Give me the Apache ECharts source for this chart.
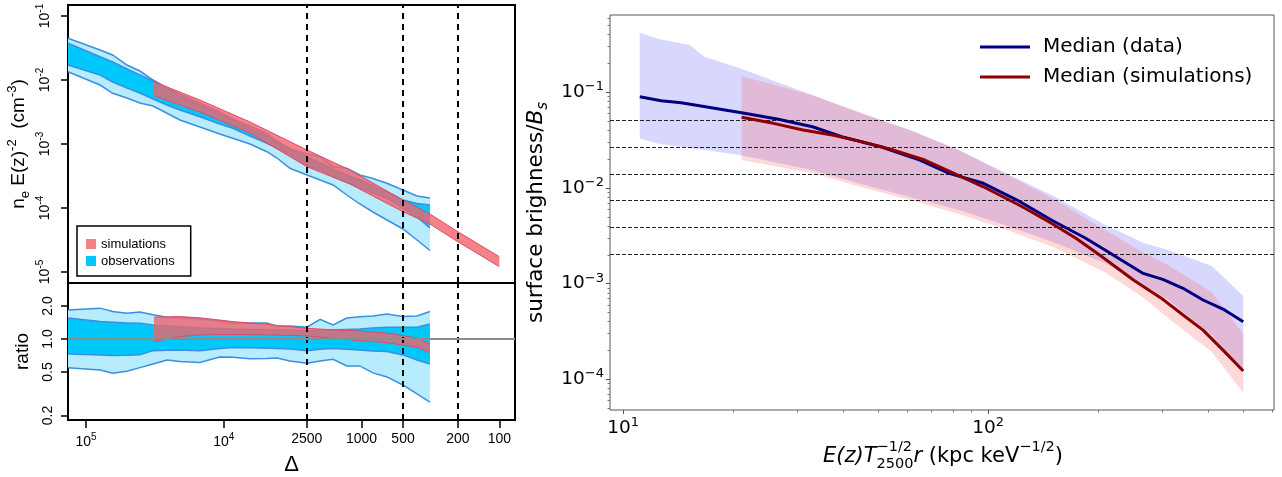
<!DOCTYPE html>
<html>
<head>
<meta charset="utf-8">
<script src="https://cdn.jsdelivr.net/npm/echarts@6.0.0/dist/echarts.min.js"></script>
<style>
  html, body { margin: 0; padding: 0; background: #fff; }
  #chart { width: 1282px; height: 477px; }
</style>
</head>
<body>
<div id="chart"></div>
<script>
// ---- left panel: density profiles vs overdensity Delta ----
const deltaObs = [135000, 79000, 64000, 50400, 40600, 32600, 25800, 20800, 14900, 10700, 8600, 6450, 4860, 4110, 3310, 2490, 2000, 1610, 1280, 1030, 827, 654, 501, 396, 319];
const neObsOuterHi = [0.0448, 0.0294, 0.0246, 0.01715, 0.01382, 0.0100, 0.0075, 0.00604, 0.00437, 0.00316, 0.00246, 0.00191, 0.00146, 0.001114, 0.000836, 0.000698, 0.000634, 0.000442, 0.000417, 0.000328, 0.000289, 0.000243, 0.000191, 0.000154, 0.000143];
const neObsInnerHi = [0.03745, 0.02312, 0.0191, 0.01486, 0.01197, 0.00965, 0.00723, 0.00562, 0.00407, 0.00294, 0.00237, 0.00178, 0.001334, 0.001075, 0.000836, 0.000627, 0.000505, 0.000406, 0.000328, 0.000274, 0.000221, 0.000178, 0.0001334, 0.0001175, 0.0001114];
const neObsInnerLo = [0.01715, 0.01197, 0.0093, 0.0075, 0.00626, 0.00505, 0.00407, 0.0034, 0.00267, 0.002054, 0.00176, 0.001334, 0.001025, 0.000866, 0.000673, 0.000453, 0.000392, 0.000311, 0.000255, 0.000205, 0.0001715, 0.0001433, 0.0001, 0.0000723, 0.0000487];
const neObsOuterLo = [0.01348, 0.00835, 0.0062, 0.00523, 0.00437, 0.00392, 0.00302, 0.00237, 0.001845, 0.001433, 0.001228, 0.001, 0.000758, 0.000604, 0.000417, 0.000328, 0.000274, 0.000229, 0.0001596, 0.0001155, 0.0000866, 0.0000649, 0.000047, 0.0000316, 0.0000217];
const deltaSim = [32100, 14900, 6450, 2490, 1214, 501, 319, 200, 100];
const neSimHi = [0.0094, 0.00487, 0.002207, 0.000806, 0.000392, 0.0001334, 0.0000806, 0.0000426, 0.00001734];
const neSimLo = [0.00569, 0.00316, 0.001486, 0.000442, 0.000237, 0.0000876, 0.0000562, 0.0000297, 0.0000121];

// ratio panel
const ratioObsOuterHi = [1.84, 1.91, 1.78, 1.72, 1.76, 1.66, 1.58, 1.56, 1.52, 1.46, 1.39, 1.40, 1.40, 1.30, 1.31, 1.28, 1.51, 1.34, 1.55, 1.59, 1.62, 1.69, 1.60, 1.62, 1.78];
const ratioObsInnerHi = [1.55, 1.44, 1.42, 1.40, 1.39, 1.34, 1.31, 1.29, 1.26, 1.25, 1.23, 1.22, 1.21, 1.21, 1.20, 1.18, 1.20, 1.21, 1.22, 1.23, 1.26, 1.28, 1.28, 1.28, 1.37];
const ratioObsInnerLo = [0.730, 0.715, 0.707, 0.710, 0.719, 0.782, 0.789, 0.794, 0.782, 0.819, 0.836, 0.833, 0.823, 0.817, 0.811, 0.782, 0.805, 0.816, 0.807, 0.794, 0.777, 0.766, 0.715, 0.643, 0.591];
const ratioObsOuterLo = [0.547, 0.521, 0.486, 0.507, 0.547, 0.591, 0.643, 0.623, 0.610, 0.685, 0.681, 0.661, 0.664, 0.671, 0.630, 0.600, 0.630, 0.653, 0.567, 0.567, 0.490, 0.450, 0.380, 0.315, 0.265];
const deltaSimRatio = [32100, 20800, 14900, 8580, 4860, 2490, 1610, 1030, 654, 396, 319];
const ratioSimHi = [1.58, 1.60, 1.56, 1.44, 1.36, 1.25, 1.21, 1.18, 1.13, 1.02, 0.90];
const ratioSimLo = [0.945, 1.05, 1.09, 1.10, 1.09, 1.065, 1.015, 0.965, 0.925, 0.84, 0.75];

const deltaTicks = [100000, 10000, 2500, 1000, 500, 200, 100];
const deltaLines = [2500, 500, 200];
const neTicks = [1e-1, 1e-2, 1e-3, 1e-4, 1e-5];
const ratioTicks = [0.2, 0.5, 1, 2];

// ---- right panel: surface brightness profiles ----
const rData = [11.1, 12.7, 14.4, 16.8, 19.0, 21.5, 26.6, 33.0, 39.7, 50.8, 65.0, 78.2, 97.0, 120, 149, 185, 209, 266, 301, 342, 388, 440, 500];
const medData = [0.0899, 0.0817, 0.0778, 0.0707, 0.0653, 0.0603, 0.0522, 0.0437, 0.0343, 0.0270, 0.0196, 0.0142, 0.0112, 0.00748, 0.00463, 0.00298, 0.00225, 0.00128, 0.00111, 0.000894, 0.000675, 0.000543, 0.000400];
const rSim = [21.1, 25.8, 31.1, 37.4, 44.9, 54.0, 67.0, 80.6, 97.0, 124, 149, 174, 202, 250, 301, 342, 388, 440, 500];
const medSim = [0.0548, 0.0474, 0.0404, 0.0358, 0.0305, 0.0254, 0.0196, 0.01423, 0.0103, 0.00637, 0.00428, 0.00298, 0.00199, 0.00109, 0.000686, 0.000470, 0.000327, 0.000202, 0.000122];
const rBandData = [11.1, 12.6, 15.2, 16.7, 20.9, 32.9, 44.8, 61.0, 83.1, 113, 153, 209, 267, 311, 410, 500];
const bandDataHi = [0.420, 0.358, 0.312, 0.2355, 0.178, 0.0937, 0.0608, 0.0404, 0.0249, 0.0140, 0.00805, 0.0041, 0.00266, 0.00225, 0.00153, 0.000743];
const bandDataLo = [0.0330, 0.0288, 0.0262, 0.0249, 0.0221, 0.0154, 0.0110, 0.00805, 0.00589, 0.0040, 0.00266, 0.00164, 0.00097, 0.000675, 0.00029, 0.00012];
const rBandSim = [21.1, 32.9, 44.8, 61.0, 83.1, 113, 153, 209, 267, 311, 410, 500];
const bandSimHi = [0.148, 0.0937, 0.0608, 0.0404, 0.0249, 0.01367, 0.00748, 0.00364, 0.00209, 0.00157, 0.000818, 0.000298];
const bandSimLo = [0.0196, 0.01434, 0.01023, 0.00748, 0.00535, 0.00364, 0.00236, 0.00132, 0.000708, 0.000438, 0.000193, 0.0000724];
const sbLevels = [0.0505, 0.0266, 0.0140, 0.00736, 0.00388, 0.00203];
const rTicks = [10, 100];
const sbTicks = [1e-1, 1e-2, 1e-3, 1e-4];

const chart = echarts.init(document.getElementById('chart'), null, { renderer: 'canvas' });

const R_FONT = 'Liberation Sans';
const M_FONT = 'DejaVu Sans';
const OBS_LIGHT = '#b6ecfc';
const OBS_DARK = '#00c8fa';
const OBS_EDGE = '#3a8fe0';
const SIM_FILL = 'rgba(240,100,108,0.8)';
const SIM_EDGE = '#e3496a';

// filled band between lo and hi, drawn as one polygon through the axis scales
function band(name, xi, yi, xs, lo, hi, fill, edge, edgeWidth, z, extra) {
  return Object.assign({
    type: 'custom', name: name, xAxisIndex: xi, yAxisIndex: yi, z: z, silent: true,
    color: fill, itemStyle: { color: fill },
    data: xs.map((x, i) => [x, lo[i], hi[i]]),
    renderItem: function (params, api) {
      if (params.dataIndex !== 0) return null;
      const top = xs.map((x, i) => api.coord([x, hi[i]]));
      const bot = xs.map((x, i) => api.coord([x, lo[i]]));
      const kids = [{ type: 'polygon', shape: { points: top.concat(bot.slice().reverse()) }, style: { fill: fill } }];
      if (edge) {
        kids.push({ type: 'polyline', shape: { points: top }, style: { stroke: edge, lineWidth: edgeWidth, fill: null } });
        kids.push({ type: 'polyline', shape: { points: bot }, style: { stroke: edge, lineWidth: edgeWidth, fill: null } });
      }
      return { type: 'group', children: kids };
    }
  }, extra || {});
}

const vDashes = {
  silent: true, symbol: ['none', 'none'], label: { show: false }, precision: 10,
  lineStyle: { color: '#000', width: 2, type: [6, 5] },
  data: deltaLines.map(v => ({ xAxis: v }))
};

function powLabel(v, minus) {
  const e = Math.round(Math.log10(v));
  return '{b|10}{s|' + String(e).replace('-', minus) + '}';
}

const leftTickStyle = { show: true, length: 7, lineStyle: { color: '#000', width: 1.5 } };

const option = {
  animation: false,
  backgroundColor: '#fff',
  grid: [
    { left: 68, top: 5, width: 447, height: 278, show: true, borderColor: '#000', borderWidth: 2, backgroundColor: 'transparent' },
    { left: 68, top: 283, width: 447, height: 137, show: true, borderColor: '#000', borderWidth: 2, backgroundColor: 'transparent' },
    { left: 610, top: 15, width: 664, height: 395, show: true, borderColor: '#555', borderWidth: 1, backgroundColor: 'transparent' }
  ],
  xAxis: [
    { type: 'log', gridIndex: 0, inverse: true, min: 77, max: 135000,
      axisLine: { show: false }, axisTick: { show: false }, axisLabel: { show: false }, splitLine: { show: false } },
    { type: 'log', gridIndex: 1, inverse: true, min: 77, max: 135000,
      axisLine: { show: false }, splitLine: { show: false },
      axisTick: Object.assign({ customValues: deltaTicks }, leftTickStyle, { length: 8 }),
      axisLabel: {
        customValues: deltaTicks, margin: 12, color: '#000', fontFamily: R_FONT, fontSize: 14,
        formatter: v => (v >= 10000 ? powLabel(v, '-') : String(Math.round(v))),
        rich: {
          b: { fontFamily: R_FONT, fontSize: 14, lineHeight: 20, color: '#000' },
          s: { fontFamily: R_FONT, fontSize: 10, lineHeight: 10, verticalAlign: 'top', color: '#000' }
        }
      },
      name: 'Δ', nameLocation: 'middle', nameGap: 34,
      nameTextStyle: { fontFamily: R_FONT, fontSize: 22, color: '#000' } },
    { type: 'log', gridIndex: 2, min: 9.2, max: 607,
      axisLine: { show: false }, splitLine: { show: false },
      axisTick: { customValues: rTicks, length: 4, lineStyle: { color: '#555', width: 1 } },
      minorTick: { show: true, splitNumber: 9, length: 2.5, lineStyle: { color: '#777', width: 1 } },
      axisLabel: {
        customValues: rTicks, margin: 6, color: '#000',
        formatter: v => powLabel(v, '−'),
        rich: {
          b: { fontFamily: M_FONT, fontSize: 18.5, lineHeight: 24, color: '#000' },
          s: { fontFamily: M_FONT, fontSize: 13, lineHeight: 13, verticalAlign: 'top', color: '#000' }
        }
      } }
  ],
  yAxis: [
    { type: 'log', gridIndex: 0, min: 6.73e-6, max: 0.1486,
      axisLine: { show: false }, splitLine: { show: false },
      axisTick: Object.assign({ customValues: neTicks }, leftTickStyle),
      axisLabel: {
        customValues: neTicks, rotate: 90, margin: 13, color: '#000',
        formatter: v => powLabel(v, '-'),
        rich: {
          b: { fontFamily: R_FONT, fontSize: 14, lineHeight: 20, color: '#000' },
          s: { fontFamily: R_FONT, fontSize: 10, lineHeight: 10, verticalAlign: 'top', color: '#000' }
        }
      },
      name: '{t|n}{sub|e}{t| E(z)}{sup|-2}{t|  (cm}{sup|-3}{t|)}', nameLocation: 'middle', nameGap: 36,
      nameTextStyle: {
        rich: {
          t: { fontFamily: R_FONT, fontSize: 19, lineHeight: 26, color: '#000' },
          sub: { fontFamily: R_FONT, fontSize: 13, lineHeight: 13, verticalAlign: 'bottom', color: '#000' },
          sup: { fontFamily: R_FONT, fontSize: 13, lineHeight: 13, verticalAlign: 'top', color: '#000' }
        }
      } },
    { type: 'log', gridIndex: 1, min: 0.182, max: 3.24,
      axisLine: { show: false }, splitLine: { show: false },
      axisTick: Object.assign({ customValues: ratioTicks }, leftTickStyle),
      axisLabel: {
        customValues: ratioTicks, rotate: 90, margin: 13, color: '#000',
        fontFamily: R_FONT, fontSize: 14, formatter: v => v.toFixed(1)
      },
      name: 'ratio', nameLocation: 'middle', nameGap: 36,
      nameTextStyle: { fontFamily: R_FONT, fontSize: 19, color: '#000' } },
    { type: 'log', gridIndex: 2, min: 4.78e-5, max: 0.643,
      axisLine: { show: false }, splitLine: { show: false },
      axisTick: { customValues: sbTicks, length: 4, lineStyle: { color: '#555', width: 1 } },
      minorTick: { show: true, splitNumber: 9, length: 2.5, lineStyle: { color: '#777', width: 1 } },
      axisLabel: {
        customValues: sbTicks, margin: 6, color: '#000',
        formatter: v => powLabel(v, '−'),
        rich: {
          b: { fontFamily: M_FONT, fontSize: 18.5, lineHeight: 24, color: '#000' },
          s: { fontFamily: M_FONT, fontSize: 13, lineHeight: 13, verticalAlign: 'top', color: '#000' }
        }
      },
      name: '{t|surface brighness/}{i|B}{sub|s}', nameLocation: 'middle', nameGap: 53,
      nameTextStyle: {
        rich: {
          t: { fontFamily: M_FONT, fontSize: 21.5, lineHeight: 28, color: '#000' },
          i: { fontFamily: M_FONT, fontStyle: 'italic', fontSize: 21.5, lineHeight: 28, color: '#000' },
          sub: { fontFamily: M_FONT, fontStyle: 'italic', fontSize: 15, lineHeight: 15, verticalAlign: 'bottom', color: '#000' }
        }
      } }
  ],
  legend: [
    { data: ['simulations', 'observations'], left: 77, top: 226, orient: 'vertical',
      icon: 'rect', itemWidth: 10, itemHeight: 10, itemGap: 3, padding: [11, 16, 8, 9],
      borderColor: '#000', borderWidth: 1.5, borderRadius: 0, backgroundColor: '#fff',
      selectedMode: false, textStyle: { fontFamily: R_FONT, fontSize: 13, lineHeight: 14, color: '#000' } },
    { data: ['Median (data)', 'Median (simulations)'], left: 975, top: 30, orient: 'vertical',
      icon: 'rect', itemWidth: 50, itemHeight: 3, itemGap: 6,
      selectedMode: false, textStyle: { fontFamily: M_FONT, fontSize: 20, lineHeight: 24, color: '#000', padding: [0, 0, 0, 8] } }
  ],
  series: [
    band('obs outer', 0, 0, deltaObs, neObsOuterLo, neObsOuterHi, OBS_LIGHT, OBS_EDGE, 1.5, 2),
    band('observations', 0, 0, deltaObs, neObsInnerLo, neObsInnerHi, OBS_DARK, OBS_EDGE, 1.5, 3),
    band('simulations', 0, 0, deltaSim, neSimLo, neSimHi, SIM_FILL, SIM_EDGE, 1, 4, { markLine: vDashes }),

    band('obs outer', 1, 1, deltaObs, ratioObsOuterLo, ratioObsOuterHi, OBS_LIGHT, OBS_EDGE, 1.5, 2),
    band('observations', 1, 1, deltaObs, ratioObsInnerLo, ratioObsInnerHi, OBS_DARK, OBS_EDGE, 1.5, 3),
    band('simulations', 1, 1, deltaSimRatio, ratioSimLo, ratioSimHi, SIM_FILL, SIM_EDGE, 1, 4, {
      markLine: {
        silent: true, symbol: ['none', 'none'], label: { show: false }, precision: 10,
        data: deltaLines.map(v => ({ xAxis: v, lineStyle: { color: '#000', width: 2, type: [6, 5] } }))
          .concat([{ yAxis: 1, lineStyle: { color: '#8c8c8c', width: 2, type: 'solid' } }])
      }
    }),

    band('data band', 2, 2, rBandData, bandDataLo, bandDataHi, 'rgba(90,90,255,0.24)', null, 0, 2),
    band('sim band', 2, 2, rBandSim, bandSimLo, bandSimHi, 'rgba(255,90,90,0.24)', null, 0, 3),
    { type: 'line', name: 'Median (data)', xAxisIndex: 2, yAxisIndex: 2, z: 5, silent: true,
      color: '#000080', symbol: 'none', lineStyle: { color: '#000080', width: 3 },
      data: rData.map((r, i) => [r, medData[i]]),
      markLine: {
        silent: true, symbol: ['none', 'none'], label: { show: false }, precision: 10,
        lineStyle: { color: '#222', width: 1, type: [4, 2] },
        data: sbLevels.map(v => ({ yAxis: v }))
      } },
    { type: 'line', name: 'Median (simulations)', xAxisIndex: 2, yAxisIndex: 2, z: 6, silent: true,
      color: '#8b0000', symbol: 'none', lineStyle: { color: '#8b0000', width: 3 },
      data: rSim.map((r, i) => [r, medSim[i]]) }
  ],
  graphic: []
};

// x title of the right panel, with the stacked super/subscript after T
(function () {
  const ctx = document.createElement('canvas').getContext('2d');
  function w(text, size, italic) {
    ctx.font = (italic ? 'italic ' : '') + size + 'px "' + M_FONT + '"';
    return ctx.measureText(text).width;
  }
  const cy = 457;
  const parts = [
    [{ t: 'E(z)T', s: 21, it: true, dy: 0 }],
    [{ t: '−1/2', s: 14.5, it: false, dy: -10 }, { t: '2500', s: 14.5, it: false, dy: 7 }],
    [{ t: 'r', s: 21, it: true, dy: 0 }],
    [{ t: ' (kpc keV', s: 21, it: false, dy: 0 }],
    [{ t: '−1/2', s: 14.5, it: false, dy: -10 }],
    [{ t: ')', s: 21, it: false, dy: 0 }]
  ];
  const widths = parts.map(p => Math.max.apply(null, p.map(q => w(q.t, q.s, q.it))));
  const total = widths.reduce((a, b) => a + b, 0);
  let x = 943 - total / 2;
  parts.forEach((p, k) => {
    p.forEach(q => {
      option.graphic.push({
        type: 'text', x: x, y: cy + q.dy, silent: true,
        style: { text: q.t, fontFamily: M_FONT, fontSize: q.s, fontStyle: q.it ? 'italic' : 'normal',
          fill: '#000', align: 'left', verticalAlign: 'middle' }
      });
    });
    x += widths[k];
  });
})();

chart.setOption(option);
</script>
</body>
</html>
